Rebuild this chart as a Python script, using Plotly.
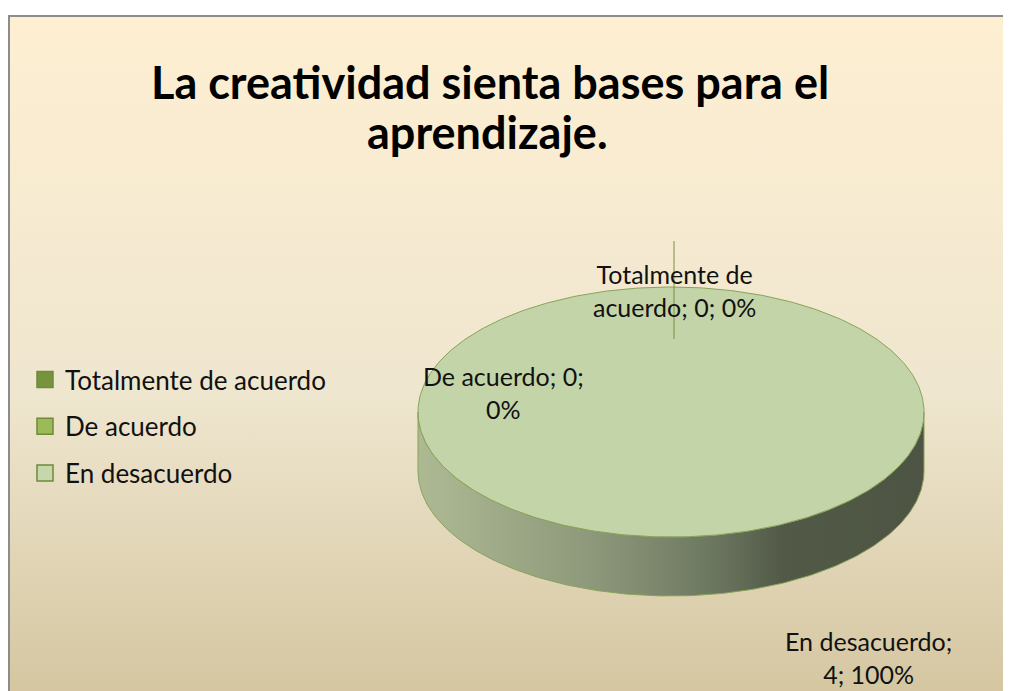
import numpy as np
import plotly.graph_objects as go

# ---------------- data ----------------
categories = ["Totalmente de acuerdo", "De acuerdo", "En desacuerdo"]
values = [0, 0, 4]
legend_colors = ["#77933C", "#9BBB59", "#C6D8AB"]
label_breaks = ["Totalmente de<br>acuerdo; {v}; {p}%", "De acuerdo; {v};<br>{p}%", "En desacuerdo;<br>{v}; {p}%"]
title_lines = ["La creatividad sienta bases para el", "aprendizaje."]

# ---------------- geometry / style ----------------
OFF = 8                      # page body margin
W, H = 1011 - OFF, 691 - OFF  # figure size
cx, cy, rx, ry, depth = 671, 412, 253, 125, 59
top_color = "#C4D4A9"
edge_color = "#88A357"
side_scale = [[0, "#AEB994"], [0.34, "#8E997B"], [0.57, "#6E7962"],
              [0.72, "#525A47"], [1, "#4D5443"]]
font_family = "Lato, 'Open Sans', sans-serif"
label_pos = [(674, 290), (503, 392), (868, 657)]
title_pos = [(490, 82), (487, 132)]


def px(x):
    return (x - OFF) / W


def py(y):
    return 1 - (y - OFF) / H


fig = go.Figure()


def ell(theta_deg, dy=0.0):
    t = np.radians(theta_deg)
    return cx + rx * np.sin(t), cy - ry * np.cos(t) + dy


total = sum(values)
starts = np.concatenate([[0], np.cumsum(values)[:-1]]) / total * 360
ends = np.cumsum(values) / total * 360

# sides (visible front half: 90..270 degrees clockwise from top)
for a0, a1 in zip(starts, ends):
    s0, s1 = max(a0, 90), min(a1, 270)
    if s1 <= s0:
        continue
    th = np.linspace(s0, s1, 200)
    xt, yt = ell(th)
    xb, yb = ell(th[::-1], depth)
    fig.add_trace(go.Scatter(
        x=np.concatenate([xt, xb, xt[:1]]), y=np.concatenate([yt, yb, yt[:1]]),
        mode="lines", fill="toself", line=dict(color=edge_color, width=1),
        fillgradient=dict(type="horizontal", colorscale=side_scale),
        hoverinfo="skip", showlegend=False))

# tops
for a0, a1 in zip(starts, ends):
    if a1 - a0 <= 0:
        continue
    th = np.linspace(a0, a1, 400)
    xt, yt = ell(th)
    if a1 - a0 < 360:
        xt = np.concatenate([[cx], xt, [cx]])
        yt = np.concatenate([[cy], yt, [cy]])
    fig.add_trace(go.Scatter(
        x=xt, y=yt, mode="lines", fill="toself", fillcolor=top_color,
        line=dict(color=edge_color, width=1), hoverinfo="skip", showlegend=False))

# legend entries
for i, (name, col) in enumerate(zip(categories, legend_colors)):
    fig.add_trace(go.Scatter(
        x=[None], y=[None], mode="markers", name=name, legendgroup=f"g{i}",
        marker=dict(symbol="square", size=16, color=col,
                    line=dict(color="#6E8B38", width=1.5))))

# data labels
for i, (name, v) in enumerate(zip(categories, values)):
    pct = round(v / total * 100)
    fig.add_annotation(x=label_pos[i][0], y=label_pos[i][1], xref="x", yref="y",
                       text=label_breaks[i].format(v=v, p=pct), showarrow=False,
                       font=dict(family=font_family, size=25, color="#111111"),
                       align="center")

# leader line for the zero slices at the top
fig.add_shape(type="line", xref="x", yref="y", x0=674, x1=674, y0=241, y1=339,
              line=dict(color="#76923C", width=1), layer="above")

# title
for (tx, ty), line in zip(title_pos, title_lines):
    fig.add_annotation(x=tx, y=ty, xref="x", yref="y", text="<b>" + line + "</b>",
                       showarrow=False,
                       font=dict(family=font_family, size=45, color="#000000"))

# background gradient
svg = ("data:image/svg+xml;utf8,<svg xmlns='http://www.w3.org/2000/svg' width='100' height='100' "
       "preserveAspectRatio='none'><defs><linearGradient id='g' x1='0' y1='0' x2='0' y2='1'>"
       "<stop offset='0' stop-color='%23FEEFD2'/><stop offset='0.55' stop-color='%23EFE6CF'/>"
       "<stop offset='1' stop-color='%23D4C59F'/></linearGradient></defs>"
       "<rect width='100' height='100' fill='url(%23g)'/></svg>")
fig.add_layout_image(source=svg, xref="paper", yref="paper", x=px(8), y=py(15),
                     sizex=1.0, sizey=py(15) + 0.02, xanchor="left", yanchor="top",
                     sizing="stretch", layer="below")

# frame
fig.add_shape(type="rect", xref="paper", yref="paper", x0=px(9), y0=-0.05, x1=1.05,
              y1=py(16), line=dict(color="#8C8C8C", width=2), layer="above")

fig.update_layout(
    width=W, height=H, autosize=False,
    margin=dict(l=0, r=0, t=0, b=0),
    paper_bgcolor="white", plot_bgcolor="rgba(0,0,0,0)",
    xaxis=dict(range=[OFF, OFF + W], visible=False, fixedrange=True, domain=[0, 1]),
    yaxis=dict(range=[OFF + H, OFF], visible=False, fixedrange=True, domain=[0, 1]),
    showlegend=True,
    legend=dict(x=px(25), y=py(356), xanchor="left", yanchor="top",
                bgcolor="rgba(0,0,0,0)", tracegroupgap=10,
                font=dict(family=font_family, size=26, color="#111111")),
    font=dict(family=font_family),
)

fig.write_html("out.html")
